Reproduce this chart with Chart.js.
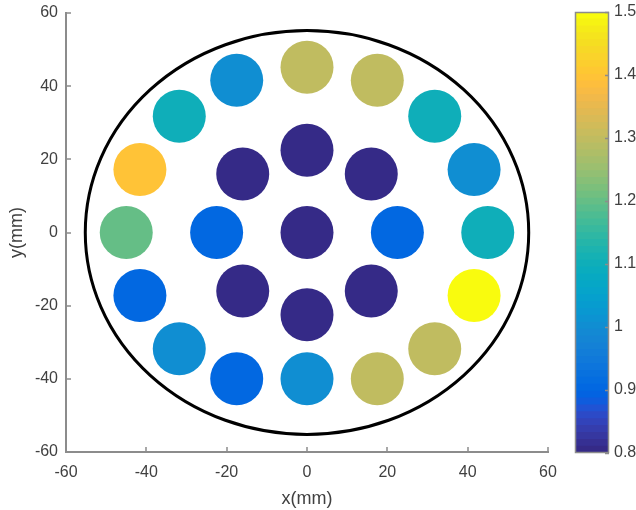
<!DOCTYPE html>
<html>
<head>
<meta charset="utf-8">
<script src="https://cdn.jsdelivr.net/npm/chart.js@4"></script>
<style>
    html, body { margin: 0; padding: 0; background: #fff; }
    #wrap { position: relative; width: 636px; height: 510px; }
    #main { position: absolute; left: 0; top: 0; }
    #cbar { position: absolute; left: 560px; top: 0; }
</style>
</head>
<body>
<div id="wrap">
    <canvas id="main" width="560" height="510"></canvas>
    <canvas id="cbar" width="76" height="510"></canvas>
</div>
<script>
// ── data ─────────────────────────────────────────────────────────────────
// centre, inner ring (clockwise from top), outer ring (clockwise from top)
const xMm = [0,
    0, 16, 22.5, 16, 0, -16, -22.5, -16,
    0, 17.5, 31.8, 41.6, 45, 41.6, 31.8, 17.5, 0, -17.5, -31.8, -41.6, -45, -41.6, -31.8, -17.5];
const yMm = [0,
    22.5, 16, 0, -16, -22.5, -16, 0, 16,
    45.2, 41.6, 31.8, 17.2, 0, -17.2, -31.8, -40, -40, -40, -31.8, -17.2, 0, 17.2, 31.8, 41.6];
const ratio = [0.8,
    0.8, 0.8, 0.9, 0.8, 0.8, 0.8, 0.9, 0.8,
    1.3, 1.3, 1.1, 1.0, 1.1, 1.5, 1.3, 1.3, 1.0, 0.9, 1.0, 0.9, 1.2, 1.4, 1.1, 1.0];

const boundaryR = 55.2;            // outline circle, mm
const axisTicks = [-60, -40, -20, 0, 20, 40, 60];
const cMin = 0.8, cMax = 1.5;
const cbarTicks = [0.8, 0.9, 1.0, 1.1, 1.2, 1.3, 1.4, 1.5];

// MATLAB parula, 64 entries
const parula = [
    [0.2081,0.1663,0.5292],[0.2116,0.1898,0.5777],[0.2123,0.2138,0.6270],[0.2081,0.2386,0.6771],
    [0.1959,0.2645,0.7279],[0.1707,0.2919,0.7792],[0.1253,0.3242,0.8303],[0.0591,0.3598,0.8683],
    [0.0117,0.3875,0.8820],[0.0060,0.4086,0.8828],[0.0165,0.4266,0.8786],[0.0329,0.4430,0.8720],
    [0.0498,0.4586,0.8641],[0.0629,0.4737,0.8554],[0.0723,0.4887,0.8467],[0.0779,0.5040,0.8384],
    [0.0793,0.5200,0.8312],[0.0749,0.5375,0.8263],[0.0641,0.5570,0.8240],[0.0488,0.5772,0.8228],
    [0.0343,0.5966,0.8199],[0.0265,0.6137,0.8135],[0.0239,0.6287,0.8038],[0.0231,0.6418,0.7913],
    [0.0228,0.6535,0.7768],[0.0267,0.6642,0.7607],[0.0384,0.6743,0.7436],[0.0590,0.6838,0.7254],
    [0.0843,0.6928,0.7062],[0.1133,0.7015,0.6859],[0.1453,0.7098,0.6646],[0.1801,0.7177,0.6424],
    [0.2178,0.7250,0.6193],[0.2586,0.7317,0.5954],[0.3022,0.7376,0.5712],[0.3482,0.7424,0.5473],
    [0.3953,0.7459,0.5244],[0.4420,0.7481,0.5033],[0.4871,0.7491,0.4840],[0.5300,0.7491,0.4661],
    [0.5709,0.7485,0.4494],[0.6099,0.7473,0.4337],[0.6473,0.7456,0.4188],[0.6834,0.7435,0.4044],
    [0.7184,0.7411,0.3905],[0.7525,0.7384,0.3768],[0.7858,0.7356,0.3633],[0.8185,0.7327,0.3498],
    [0.8507,0.7299,0.3360],[0.8824,0.7274,0.3217],[0.9139,0.7258,0.3063],[0.9450,0.7261,0.2886],
    [0.9739,0.7314,0.2666],[0.9938,0.7455,0.2403],[0.9990,0.7653,0.2164],[0.9955,0.7861,0.1967],
    [0.9880,0.8066,0.1794],[0.9789,0.8271,0.1633],[0.9697,0.8481,0.1475],[0.9626,0.8705,0.1309],
    [0.9589,0.8949,0.1132],[0.9598,0.9218,0.0948],[0.9661,0.9514,0.0755],[0.9763,0.9831,0.0538],
];

const textColor = '#404040';
const axisColor = '#8c8c8c';
const FONT = '"Liberation Sans", Arial, Helvetica, sans-serif';

function rgb(c) {
    return `rgb(${Math.round(c[0] * 255)},${Math.round(c[1] * 255)},${Math.round(c[2] * 255)})`;
}
// same lookup MATLAB does for scaled colour data
function colorOf(v) {
    let i = Math.floor((v - cMin) / (cMax - cMin) * parula.length + 1e-9);
    i = Math.max(0, Math.min(parula.length - 1, i));
    return rgb(parula[i]);
}

// fixed box sizes, no extra room for overhanging end labels
function fixBox(w, h) {
    return s => {
        if (w != null) s.width = w;
        if (h != null) s.height = h;
        s.paddingLeft = s.paddingRight = s.paddingTop = s.paddingBottom = 0;
    };
}

// outline circle + inward tick marks, MATLAB style
const matlabAxes = {
    id: 'matlabAxes',
    beforeDatasetsDraw(chart) {
        const { ctx, scales: { x, y } } = chart;
        const cx = x.getPixelForValue(0), cy = y.getPixelForValue(0);
        const rx = x.getPixelForValue(boundaryR) - cx;
        const ry = cy - y.getPixelForValue(boundaryR);
        ctx.save();
        ctx.beginPath();
        ctx.ellipse(cx, cy, rx, ry, 0, 0, Math.PI * 2);
        ctx.lineWidth = 3;
        ctx.strokeStyle = '#000';
        ctx.stroke();
        ctx.restore();
    },
    afterDraw(chart) {
        const { ctx, scales: { x, y } } = chart;
        ctx.save();
        ctx.strokeStyle = axisColor;
        ctx.lineWidth = 1.5;
        ctx.beginPath();
        for (const v of axisTicks) {
            const px = Math.round(x.getPixelForValue(v));
            ctx.moveTo(px, x.top);
            ctx.lineTo(px, x.top - 5);
            const py = Math.round(y.getPixelForValue(v));
            ctx.moveTo(y.right, py);
            ctx.lineTo(y.right + 5, py);
        }
        ctx.stroke();
        ctx.restore();
    },
};

new Chart(document.getElementById('main'), {
    type: 'scatter',
    data: {
        datasets: [{
            data: xMm.map((x, i) => ({ x, y: yMm[i] })),
            pointRadius: 26.5,
            pointHoverRadius: 26.5,
            pointBackgroundColor: ratio.map(colorOf),
            pointBorderWidth: 0,
            borderWidth: 0,
        }],
    },
    options: {
        responsive: false,
        animation: false,
        events: [],
        layout: { autoPadding: false, padding: { top: 13, right: 12, left: 0, bottom: 0 } },
        plugins: { legend: { display: false }, tooltip: { enabled: false } },
        scales: {
            x: {
                type: 'linear', min: -60, max: 60,
                ticks: { stepSize: 20, padding: 11, maxRotation: 0, color: textColor, font: { family: FONT, size: 16 } },
                grid: { display: false, drawTicks: false },
                border: { display: true, color: axisColor, width: 2 },
                title: { display: true, text: 'x(mm)', color: textColor, font: { family: FONT, size: 18 }, padding: { top: 0, bottom: 0 } },
                afterFit: fixBox(null, 58),
            },
            y: {
                type: 'linear', min: -60, max: 60,
                ticks: { stepSize: 20, padding: 8, color: textColor, font: { family: FONT, size: 16 } },
                grid: { display: false, drawTicks: false },
                border: { display: true, color: axisColor, width: 2 },
                title: { display: true, text: 'y(mm)', color: textColor, font: { family: FONT, size: 18 }, padding: { top: 6, bottom: 4 } },
                afterFit: fixBox(66, null),
            },
        },
    },
    plugins: [matlabAxes],
});

// ── colorbar ──────────────────────────────────────────────────────────────
const cStep = (cMax - cMin) / parula.length;
const cbarFrame = {
    id: 'cbarFrame',
    afterDraw(chart) {
        const { ctx, chartArea: a, scales: { y } } = chart;
        ctx.save();
        ctx.strokeStyle = axisColor;
        ctx.lineWidth = 1.5;
        ctx.strokeRect(Math.round(a.left) + 0.5, Math.round(a.top) + 0.5,
            Math.round(a.right - a.left) - 1, Math.round(a.bottom - a.top) - 1);
        ctx.beginPath();
        for (const v of cbarTicks) {
            const py = Math.round(y.getPixelForValue(v)) + 0.5;
            ctx.moveTo(a.right, py);
            ctx.lineTo(a.right - 4, py);
        }
        ctx.stroke();
        ctx.restore();
    },
};

new Chart(document.getElementById('cbar'), {
    type: 'bar',
    data: {
        labels: [''],
        // each band runs from the bottom to its own top; lower bands sit on top
        datasets: parula.map((c, i) => ({
            data: [[cMin, cMin + (i + 1) * cStep]],
            backgroundColor: rgb(c),
            borderWidth: 0,
            grouped: false,
            barPercentage: 1,
            categoryPercentage: 1,
        })),
    },
    options: {
        responsive: false,
        animation: false,
        events: [],
        layout: { autoPadding: false, padding: { top: 12, left: 15, bottom: 57, right: 0 } },
        plugins: { legend: { display: false }, tooltip: { enabled: false } },
        scales: {
            x: { display: false },
            y: {
                position: 'right', min: cMin, max: cMax,
                afterBuildTicks: s => { s.ticks = cbarTicks.map(value => ({ value })); },
                ticks: {
                    padding: 5, color: textColor, font: { family: FONT, size: 16 },
                    callback: v => String(Number(v.toFixed(1))),
                },
                grid: { display: false, drawTicks: false },
                border: { display: false },
                afterFit: fixBox(27, null),
            },
        },
    },
    plugins: [cbarFrame],
});
</script>
</body>
</html>
